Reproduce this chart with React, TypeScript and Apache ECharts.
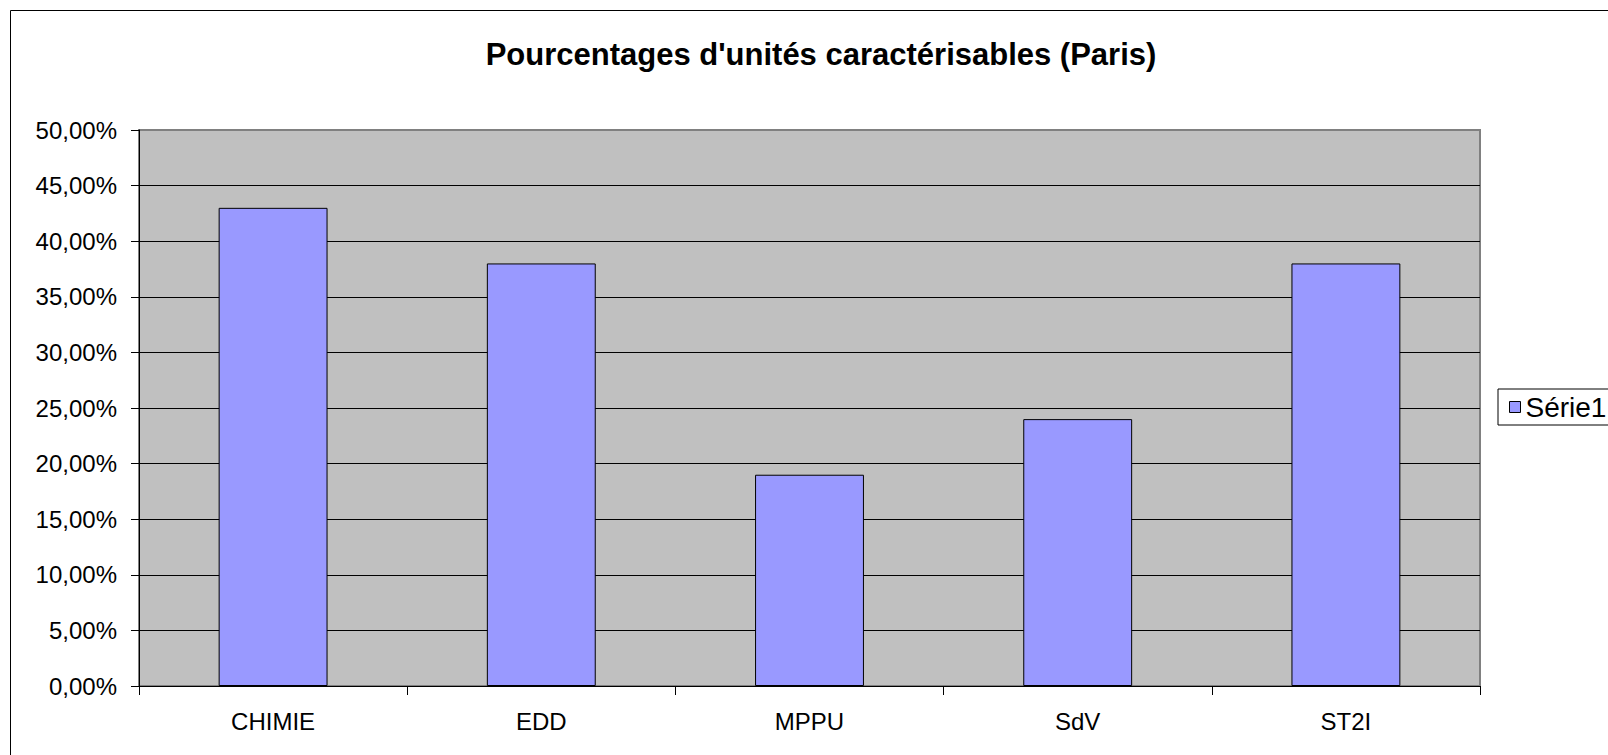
import React, { useEffect, useRef } from "react";
import * as echarts from "echarts";

const titleText = "Pourcentages d'unités caractérisables (Paris)";
const categories = ["CHIMIE", "EDD", "MPPU", "SdV", "ST2I"];
const seriesName = "Série1";
const values = [43, 38, 19, 24, 38];
const yMin = 0;
const yMax = 50;
const yStep = 5;

const FONT = "'Liberation Sans', Arial, sans-serif";

export default function App() {
  const ref = useRef<HTMLDivElement>(null);
  useEffect(() => {
    if (!ref.current) return;
    const chart = echarts.init(ref.current, undefined, { renderer: "svg" });
    chart.setOption({
      animation: false,
      backgroundColor: "#ffffff",
      textStyle: { fontFamily: FONT },
      title: {
        text: titleText,
        left: 816,
        top: 34,
        textAlign: "center",
        textStyle: { fontFamily: FONT, fontSize: 31, fontWeight: "bold", color: "#000" },
      },
      graphic: [
        {
          type: "rect",
          z: -10,
          shape: { x: 10.5, y: 10.5, width: 1700, height: 800 },
          style: { fill: "none", stroke: "#000", lineWidth: 1 },
        },
      ],
      legend: {
        data: [seriesName],
        left: 1498,
        top: 389,
        padding: [4, 10, 4, 11],
        borderColor: "#000",
        borderWidth: 1,
        backgroundColor: "#fff",
        icon: "rect",
        itemWidth: 11,
        itemHeight: 11,
        itemStyle: { borderColor: "#000", borderWidth: 1 },
        textStyle: { fontFamily: FONT, fontSize: 28, color: "#000" },
      },
      grid: {
        left: 139,
        right: 128,
        top: 130,
        bottom: 69,
        show: true,
        backgroundColor: "#C0C0C0",
        borderColor: "#808080",
        borderWidth: 2,
      },
      xAxis: {
        type: "category",
        data: categories,
        axisLine: { show: true, lineStyle: { color: "#000", width: 1 } },
        axisTick: { show: true, alignWithLabel: false, length: 9, lineStyle: { color: "#000" } },
        axisLabel: { margin: 23, fontFamily: FONT, fontSize: 24, color: "#000" },
        splitLine: { show: false },
      },
      yAxis: {
        type: "value",
        min: yMin,
        max: yMax,
        interval: yStep,
        axisLine: { show: true, lineStyle: { color: "#000", width: 1 } },
        axisTick: { show: true, length: 8, lineStyle: { color: "#000" } },
        axisLabel: {
          margin: 22,
          fontFamily: FONT,
          fontSize: 24,
          color: "#000",
          formatter: (v: number) => v.toFixed(2).replace(".", ",") + "%",
        },
        splitLine: { show: true, showMaxLine: false, lineStyle: { color: "#000", width: 1 } },
      },
      series: [
        {
          name: seriesName,
          type: "bar",
          data: values,
          barCategoryGap: "59.4%",
          itemStyle: { color: "#9999FF", borderColor: "#000", borderWidth: 1 },
        },
      ],
    });
    return () => chart.dispose();
  }, []);
  return (
    <div
      ref={ref}
      style={{ position: "absolute", left: 0, top: 0, width: 1608, height: 755 }}
    />
  );
}
